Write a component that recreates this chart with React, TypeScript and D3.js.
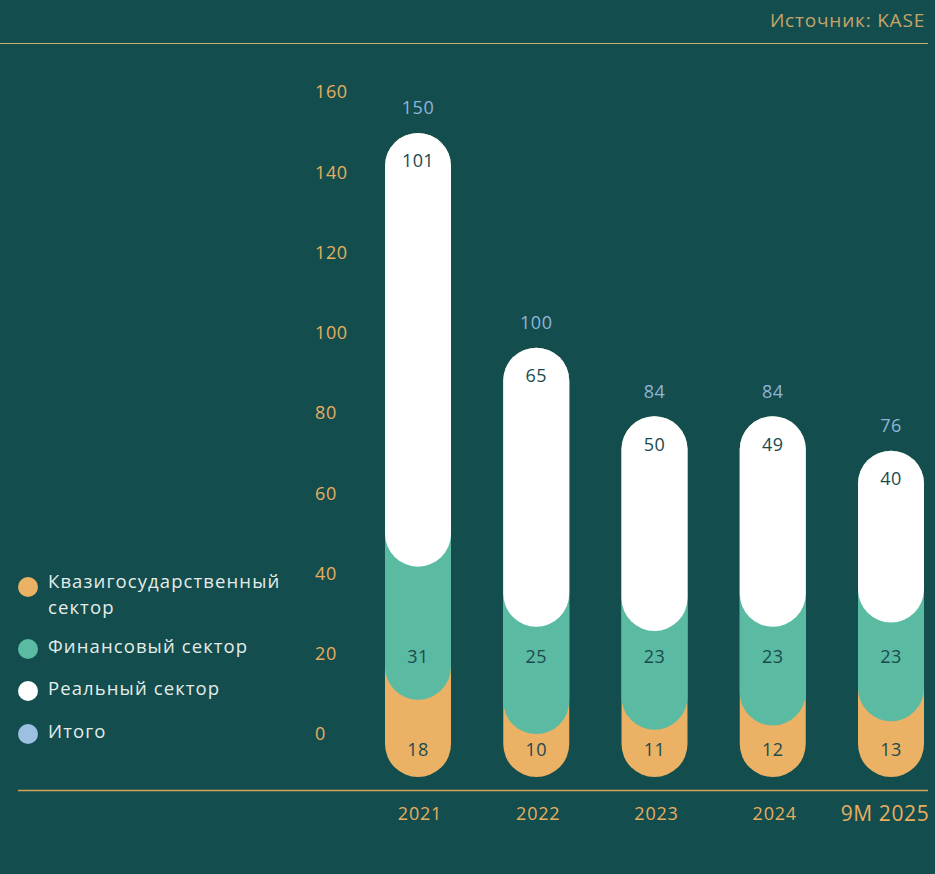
import React from "react";
import * as d3 from "d3";

const categories = ["2021", "2022", "2023", "2024", "9M 2025"];
const quasi = [18, 10, 11, 12, 13];
const financial = [31, 25, 23, 23, 23];
const real = [101, 65, 50, 49, 40];
const totals = [150, 100, 84, 84, 76];
const yTicks = [0, 20, 40, 60, 80, 100, 120, 140, 160];
const legendItems = [
  { lines: ["Квазигосударственный", "сектор"], color: "#EBB164" },
  { lines: ["Финансовый сектор"], color: "#5BBBA2" },
  { lines: ["Реальный сектор"], color: "#FFFFFF" },
  { lines: ["Итого"], color: "#9CC0E2" },
];

const W = 935;
const H = 874;
const BG = "#134D4E";
const GOLD = "#E8AE5E";
const DARK = "#1A4A4E";
const FONT = "'Open Sans', 'Noto Sans', sans-serif";

export default function App() {
  const x = d3.scalePoint<string>().domain(categories).range([418, 891]);
  const y = d3.scaleLinear().domain([0, 150]).range([777, 133]);
  const yAxis = d3.scaleLinear().domain([0, 160]).range([734, 92]);
  const bw = 66;
  const r = bw / 2;

  const pill = (cx: number, top: number, bottom: number, fill: string, key: string) => (
    <rect key={key} x={cx - r} y={top} width={bw} height={Math.max(bottom - top, bw)} rx={r} ry={r} fill={fill} />
  );

  return (
    <svg
      width={W}
      height={H}
      style={{ position: "absolute", left: 0, top: 0, display: "block" }}
      fontFamily={FONT}
    >
      <rect x={0} y={0} width={W} height={H} fill={BG} />
      <text x={925} y={27} textAnchor="end" fontSize={19} letterSpacing={0.8} fill="#C4A56A">
        Источник: KASE
      </text>
      <line x1={0} x2={928} y1={43.5} y2={43.5} stroke="#C8AE72" strokeWidth={1} />

      {yTicks.map((t) => (
        <text key={t} x={315} y={yAxis(t)} dy="0.35em" fontSize={18} letterSpacing={0.6} fill={GOLD}>
          {t}
        </text>
      ))}

      {categories.map((c, i) => {
        const cx = x(c)!;
        const c1 = quasi[i];
        const c2 = quasi[i] + financial[i];
        const tot = totals[i];
        const top = y(tot);
        const last = i === categories.length - 1;
        return (
          <g key={c}>
            {pill(cx, top, y(0), "#EBB164", "q")}
            {pill(cx, top, y(c1), "#5BBBA2", "f")}
            {pill(cx, top, y(c2), "#FFFFFF", "r")}
            <text x={cx} y={y(0) - 27} dy="0.35em" textAnchor="middle" fontSize={18} fontWeight={500} letterSpacing={0.4} fill={DARK}>
              {quasi[i]}
            </text>
            <text x={cx} y={y(0) - 120} dy="0.35em" textAnchor="middle" fontSize={18} fontWeight={500} letterSpacing={0.4} fill={DARK}>
              {financial[i]}
            </text>
            <text x={cx} y={top + 28} dy="0.35em" textAnchor="middle" fontSize={18} fontWeight={500} letterSpacing={0.4} fill={DARK}>
              {real[i]}
            </text>
            <text x={cx} y={top - 25} dy="0.35em" textAnchor="middle" fontSize={18} fontWeight={500} letterSpacing={0.5} fill="#8FB5D6">
              {tot}
            </text>
            <text
              x={last ? cx - 6 : cx + 2}
              y={814}
              dy="0.35em"
              textAnchor="middle"
              fontSize={last ? 21 : 18}
              fontWeight={500}
              letterSpacing={last ? 0.6 : 0.8}
              fill={GOLD}
            >
              {c}
            </text>
          </g>
        );
      })}

      <line x1={18} x2={928} y1={790.5} y2={790.5} stroke="#D2A456" strokeWidth={1.5} />

      {legendItems.map((it, i) => {
        const cy = [587, 649, 691, 734][i];
        const n = it.lines.length;
        return (
          <g key={i}>
            <circle cx={28} cy={cy} r={10} fill={it.color} />
            {it.lines.map((ln, j) => (
              <text
                key={j}
                x={48}
                y={n > 1 ? cy - 5 + j * 26 : cy - 2}
                dy="0.35em"
                fontSize={18.5}
                letterSpacing={1.1}
                fill="#E3ECE9"
              >
                {ln}
              </text>
            ))}
          </g>
        );
      })}
    </svg>
  );
}
